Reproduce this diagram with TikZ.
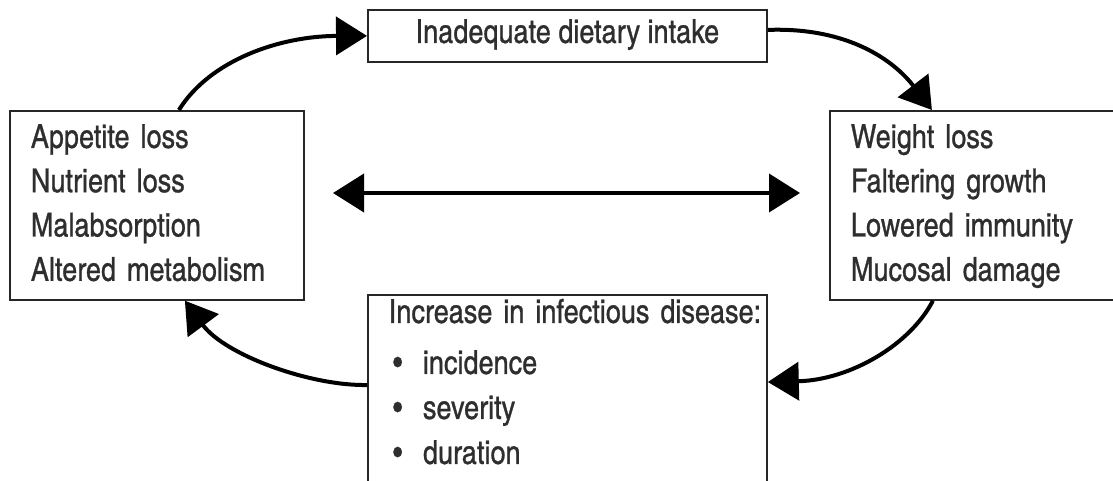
\documentclass[tikz,border=0pt]{standalone}
\usepackage{fontspec}
\setmainfont{texgyreheroscn-regular.otf}[FakeBold=0.8]
\usetikzlibrary{arrows.meta}
\newcommand\mybul{\makebox[34pt][l]{\hspace{4pt}\textbullet}}
\begin{document}
\begin{tikzpicture}[x=1pt,y=-1pt,
  box/.style={draw=black!85, line width=1.8pt, text=black!82, inner sep=0pt, anchor=north west},
  listbox/.style={box, align=left, inner xsep=21pt, font=\fontsize{33}{44.3}\selectfont},
  arr/.style={line width=4pt, -{Triangle[length=31pt,width=38pt]}},
  dblarr/.style={line width=4pt, {Triangle[length=31pt,width=38pt]}-{Triangle[length=31pt,width=38pt]}},
]
\useasboundingbox (0,0) rectangle (1113,481);
\fill[white] (0,0) rectangle (1113,481);

\node[box, minimum width=399pt, minimum height=52pt, font=\fontsize{33}{40}\selectfont] (T) at (367,9)
  {\rule[-19pt]{0pt}{52pt}Inadequate dietary intake};

\node[listbox, text width=252pt] (L) at (9,110)
  {\rule{0pt}{37pt}\mbox{Appetite loss}\\ \mbox{Nutrient loss}\\ \mbox{Malabsorption}\\ \mbox{Altered metabolism}\rule[-19pt]{0pt}{19pt}};

\node[listbox, text width=249pt] (R) at (829,110)
  {\rule{0pt}{37pt}\mbox{Weight loss}\\ \mbox{Faltering growth}\\ \mbox{Lowered immunity}\\ \mbox{Mucosal damage}\rule[-19pt]{0pt}{19pt}};

\node[box, align=left, inner xsep=21pt, text width=357pt, font=\fontsize{33}{45}\selectfont] (B) at (367,294)
  {\rule{0pt}{28pt}\mbox{Increase in infectious disease:}\\[6pt] \mybul incidence\\ \mybul severity\\ \mybul duration\rule[-40pt]{0pt}{40pt}};

\coordinate (dl) at (333,193);
\coordinate (dr) at (800,193);

\draw[arr] ([xshift=22pt]L.north) .. controls (210,60) and (280,36) .. (T.west);
\draw[arr] ([yshift=6pt]T.east) .. controls (850,27) and (895,62) .. ([xshift=-43.5pt]R.north);
\draw[arr] ([xshift=-42.5pt]R.south) .. controls (910,345) and (850,380) .. ([yshift=-88pt]B.north east);
\draw[arr] ([yshift=-91pt]B.north west) .. controls (310,386) and (225,355) .. ([xshift=28pt]L.south);
\draw[dblarr] (dl) -- (dr);
\end{tikzpicture}
\end{document}
